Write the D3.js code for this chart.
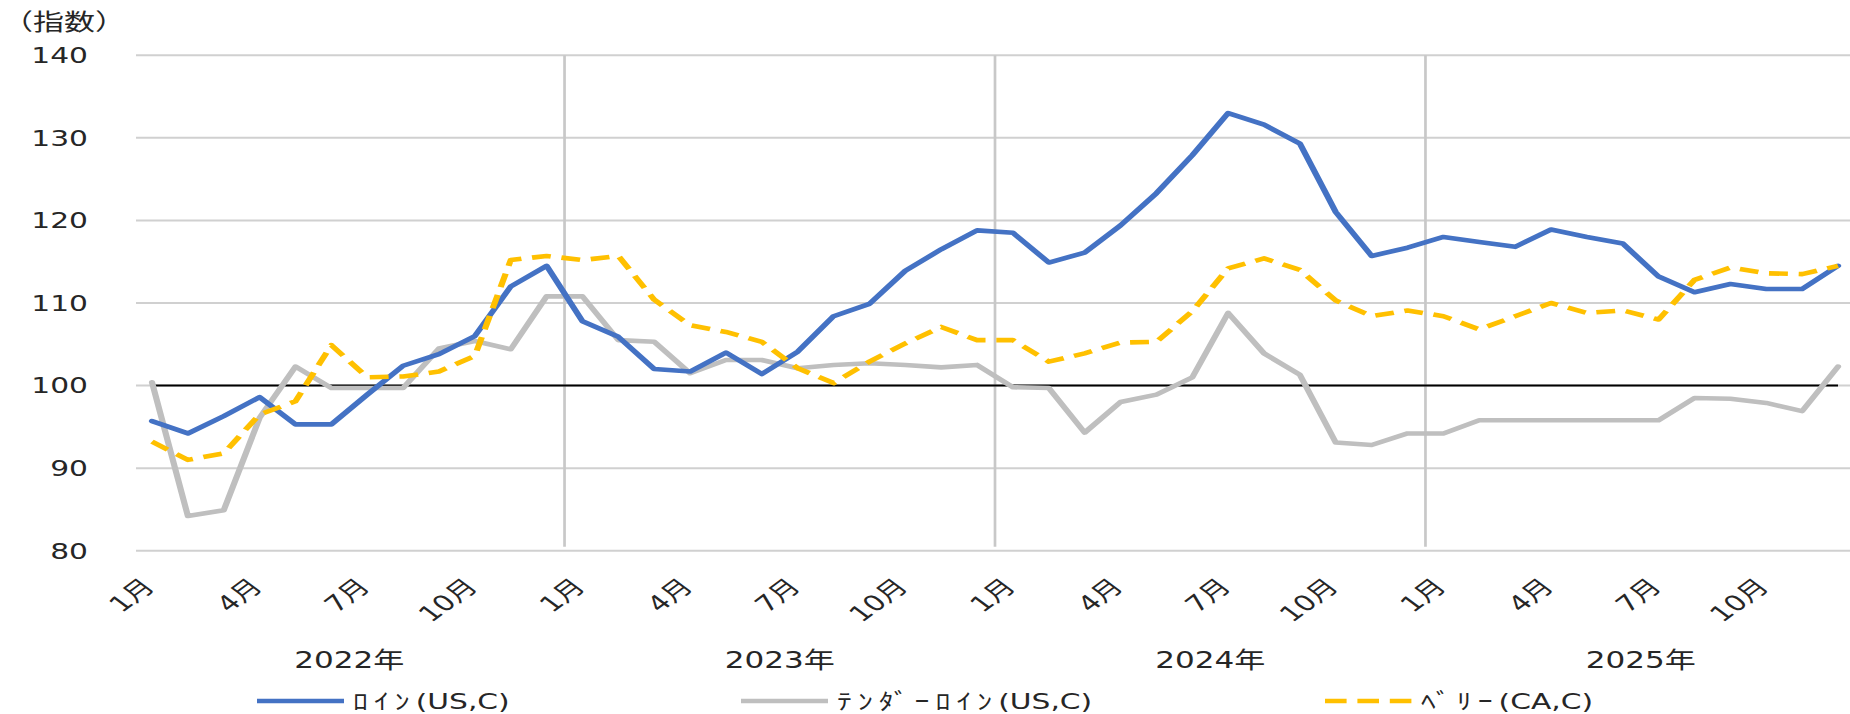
<!DOCTYPE html>
<html>
<head>
<meta charset="utf-8">
<script src="https://cdn.jsdelivr.net/npm/d3@7"></script>
<style>
  html, body { margin: 0; padding: 0; background: #fff; }
  svg text { font-family: "DejaVu Sans", "Noto Sans CJK JP", sans-serif; fill: #262626; }
</style>
</head>
<body>
<div id="app"></div>
<script>
// data: monthly index, Jan 2022 .. Dec 2025
const years = ["2022年", "2023年", "2024年", "2025年"];
const monthTicks = [1, 4, 7, 10];
const yTicks = [80, 90, 100, 110, 120, 130, 140];

const loin = [
  95.7, 94.2, 96.3, 98.6, 95.3, 95.3, 98.9, 102.4, 103.8, 106.0, 112.0, 114.5,
  107.8, 105.9, 102.0, 101.7, 104.0, 101.4, 104.1, 108.4, 109.9, 113.9, 116.5, 118.8,
  118.5, 114.9, 116.1, 119.4, 123.3, 127.9, 133.0, 131.6, 129.3, 121.0, 115.7, 116.7,
  118.0, 117.4, 116.8, 118.9, 118.0, 117.2, 113.2, 111.3, 112.3, 111.7, 111.7, 114.5
];
const tenderloin = [
  100.4, 84.2, 84.9, 96.1, 102.3, 99.7, 99.7, 99.7, 104.5, 105.4, 104.4, 110.8,
  110.8, 105.5, 105.3, 101.5, 103.1, 103.1, 102.1, 102.5, 102.7, 102.5, 102.2, 102.5,
  99.8, 99.7, 94.3, 98.0, 98.9, 101.0, 108.8, 103.9, 101.3, 93.1, 92.8, 94.2,
  94.2, 95.8, 95.8, 95.8, 95.8, 95.8, 95.8, 98.5, 98.4, 97.9, 96.9, 102.3
];
const belly = [
  93.2, 91.0, 91.8, 96.5, 98.1, 104.9, 101.0, 101.1, 101.7, 103.6, 115.2, 115.7,
  115.2, 115.7, 110.4, 107.3, 106.5, 105.3, 102.1, 100.3, 102.9, 105.1, 107.1, 105.5,
  105.5, 102.9, 103.9, 105.2, 105.3, 109.0, 114.2, 115.4, 114.0, 110.3, 108.4, 109.1,
  108.4, 106.8, 108.4, 110.0, 108.8, 109.1, 108.0, 112.8, 114.3, 113.6, 113.5, 114.5
];
const baseLine = 100;

// legend names: katakana part + code part
const seriesKana = ["ﾛｲﾝ", "ﾃﾝﾀﾞｰﾛｲﾝ", "ﾍﾞﾘｰ"];
const seriesCode = ["(US,C)", "(US,C)", "(CA,C)"];
const seriesColors = ["#4472C4", "#BFBFBF", "#FFC000"];

// the reference is stretched sideways, so draw narrow and stretch the svg
const W = 1850, H = 714;
const stretch = 1.35;
const VW = W / stretch;

const svg = d3.select("#app")
  .append("svg")
    .attr("width", W)
    .attr("height", H)
    .attr("viewBox", `0 0 ${VW} ${H}`)
    .attr("preserveAspectRatio", "none");

const months = d3.range(loin.length);

const x = d3.scalePoint()
  .domain(months)
  .range([152 / stretch, 1838 / stretch]);
const step = x.step();

const y = d3.scaleLinear()
  .domain([80, 140])
  .range([550.7, 55.3]);

const plotLeft = 136 / stretch;
const plotRight = VW;

// horizontal gridlines
svg.append("g")
  .selectAll("line")
  .data(yTicks)
  .join("line")
    .attr("x1", plotLeft)
    .attr("x2", plotRight)
    .attr("y1", d => y(d))
    .attr("y2", d => y(d))
    .attr("stroke", "#d0d0d0")
    .attr("stroke-width", 2);

// year dividers
svg.append("g")
  .selectAll("line")
  .data([12, 24, 36])
  .join("line")
    .attr("x1", d => x(d) - step / 2)
    .attr("x2", d => x(d) - step / 2)
    .attr("y1", y(140))
    .attr("y2", y(80) - 4)
    .attr("stroke", "#c8c8c8")
    .attr("stroke-width", 2);

// y labels
svg.append("g")
  .selectAll("text")
  .data(yTicks)
  .join("text")
    .attr("x", 88 / stretch)
    .attr("y", d => y(d))
    .attr("dy", "0.36em")
    .attr("text-anchor", "end")
    .attr("font-size", 22)
    .text(d => d);

svg.append("text")
  .attr("x", 2 / stretch)
  .attr("y", 30)
  .attr("font-size", 23)
  .text("（指数）");

// 100 line
svg.append("line")
  .attr("x1", x(0))
  .attr("x2", x(months.length - 1))
  .attr("y1", y(baseLine))
  .attr("y2", y(baseLine))
  .attr("stroke", "#000")
  .attr("stroke-width", 2);

// series
const line = d3.line()
  .x((d, i) => x(i))
  .y(d => y(d));

const allSeries = [loin, tenderloin, belly];
const drawOrder = [1, 0, 2];
drawOrder.forEach(k => {
  svg.append("path")
    .datum(allSeries[k])
    .attr("fill", "none")
    .attr("stroke", seriesColors[k])
    .attr("stroke-width", 4.6)
    .attr("stroke-linejoin", "round")
    .attr("stroke-linecap", k === 2 ? "butt" : "round")
    .attr("stroke-dasharray", k === 2 ? "14,8" : null)
    .attr("d", line);
});

// month labels
const tickMonths = months.filter(i => monthTicks.includes(i % 12 + 1));
svg.append("g")
  .selectAll("text")
  .data(tickMonths)
  .join("text")
    .attr("transform", d => `translate(${x(d) + 3},${588}) rotate(-45)`)
    .attr("text-anchor", "end")
    .attr("font-size", 22)
    .text(d => (d % 12 + 1) + "月");

// year labels
svg.append("g")
  .selectAll("text")
  .data(years)
  .join("text")
    .attr("x", (d, i) => (x(i * 12) + x(i * 12 + 11)) / 2)
    .attr("y", 668)
    .attr("text-anchor", "middle")
    .attr("font-size", 23)
    .text(d => d);

// legend
const legendX = [257, 741, 1325];
const legend = svg.append("g")
  .selectAll("g")
  .data(seriesKana)
  .join("g")
    .attr("transform", (d, i) => `translate(${legendX[i] / stretch},701)`);

legend.append("line")
  .attr("x1", 0)
  .attr("x2", 87 / stretch)
  .attr("stroke", (d, i) => seriesColors[i])
  .attr("stroke-width", 4.6)
  .attr("stroke-dasharray", (d, i) => i === 2 ? "16,8" : null);

const legendText = legend.append("text")
  .attr("x", 96 / stretch)
  .attr("dy", "0.36em")
  .attr("font-size", 22);

legendText.append("tspan")
  .attr("letter-spacing", 4.5)
  .text(d => d);

legendText.append("tspan")
  .text((d, i) => seriesCode[i]);
</script>
</body>
</html>
